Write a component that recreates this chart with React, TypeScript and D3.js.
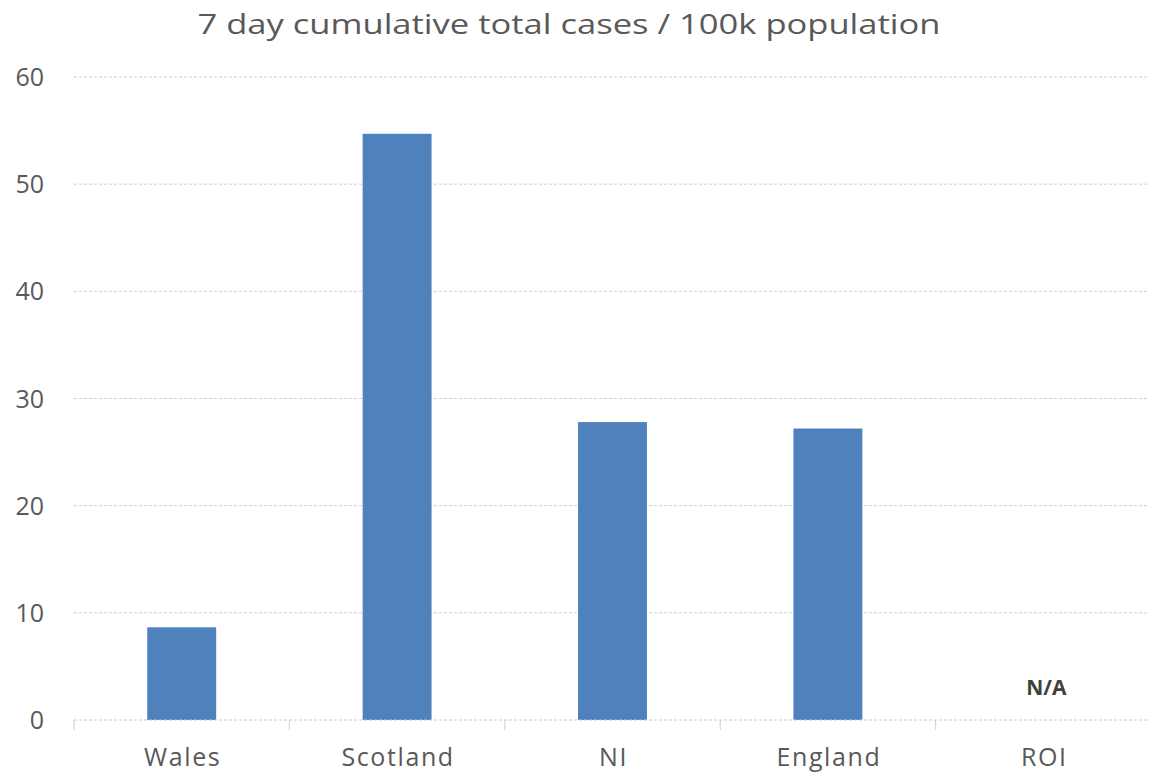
import React from "react";
import * as d3 from "d3";

const categories = ["Wales", "Scotland", "NI", "England", "ROI"];
const values: (number | null)[] = [8.65, 54.7, 27.8, 27.2, null];
const yTicks = [0, 10, 20, 30, 40, 50, 60];
const title = "7 day cumulative total cases / 100k population";
const naLabel = "N/A";

const W = 1149;
const H = 773;
const left = 74;
const right = 1151;
const top = 77;
const bottom = 720;

export default function App() {
  const x = d3.scaleBand<string>().domain(categories).range([left, right]).paddingInner(0.68).paddingOuter(0.34);
  const xb = d3.scaleBand<string>().domain(categories).range([left, right]);
  const y = d3.scaleLinear().domain([0, 60]).range([bottom, top]);
  const font = "'Open Sans', sans-serif";
  return (
    <svg width={W} height={H} style={{ position: "absolute", left: 0, top: 0, background: "#fff" }}>
      <text x={569} y={34} textAnchor="middle" fontFamily={font} fontSize={28} fill="#595959" textLength={743} lengthAdjust="spacingAndGlyphs">
        {title}
      </text>
      {yTicks.map((t) => (
        <g key={t}>
          {t !== 0 && (
            <line x1={left} x2={right - 4} y1={y(t)} y2={y(t)} stroke="#d0d0d0" strokeWidth={1} strokeDasharray="3,2" />
          )}
          <text x={44} y={y(t) + 9} textAnchor="end" fontFamily={font} fontSize={25} fill="#595959">
            {t}
          </text>
        </g>
      ))}
      {categories.map((c, i) => {
        const v = values[i];
        return v == null ? null : (
          <rect key={c} x={x(c)} y={y(v)} width={x.bandwidth()} height={y(0) - y(v)} fill="#4F81BD" />
        );
      })}
      <line x1={left} x2={right - 4} y1={y(0)} y2={y(0)} stroke="#c8c8c8" strokeWidth={1} strokeDasharray="3,2" />
      {categories.map((c) => (
        <line key={"t" + c} x1={xb(c)} x2={xb(c)} y1={y(0)} y2={y(0) + 10} stroke="#d0d0d0" strokeWidth={1} />
      ))}
      {categories.map((c) => (
        <text key={"l" + c} x={(xb(c) as number) + xb.bandwidth() / 2 + 1} y={766} textAnchor="middle" fontFamily={font} fontSize={25} letterSpacing={1.6} fill="#595959">
          {c}
        </text>
      ))}
      {categories.map((c, i) =>
        values[i] == null ? (
          <text key={"na" + c} x={(xb(c) as number) + xb.bandwidth() / 2 + 3} y={695} textAnchor="middle" fontFamily={font} fontSize={21} fontWeight="bold" fill="#404040">
            {naLabel}
          </text>
        ) : null
      )}
    </svg>
  );
}
